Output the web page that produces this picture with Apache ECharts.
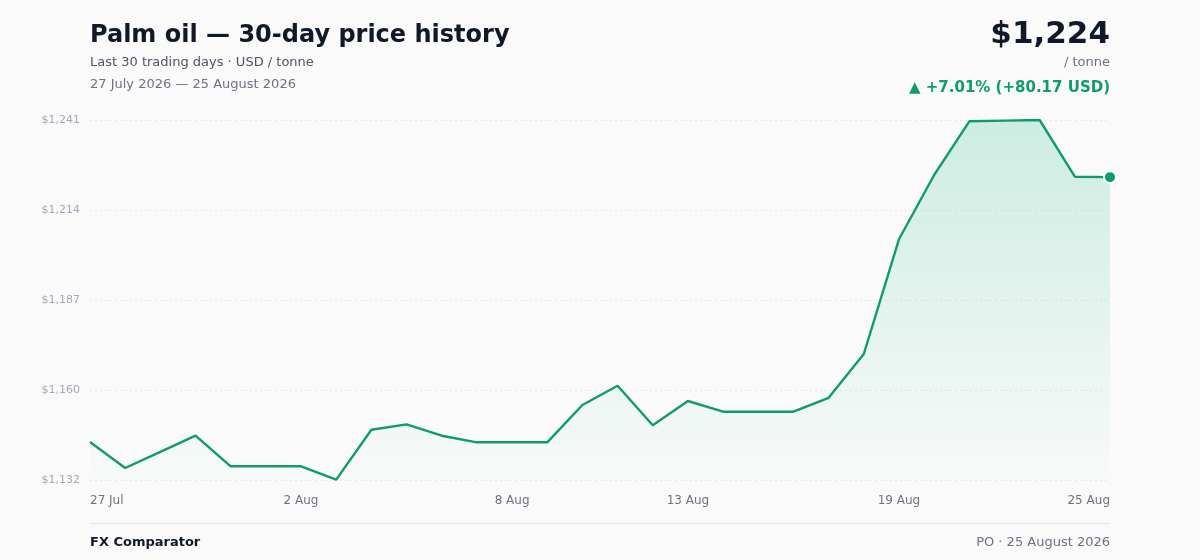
<!DOCTYPE html>
<html>
<head>
<meta charset="utf-8">
<script src="https://cdn.jsdelivr.net/npm/echarts@6/dist/echarts.min.js"></script>
<style>
html,body{margin:0;padding:0;background:#fafafa;}
#chart{width:1200px;height:560px;}
</style>
</head>
<body>
<div id="chart"></div>
<script>
const categories = ['27 Jul','28 Jul','29 Jul','30 Jul','31 Jul','1 Aug','2 Aug','3 Aug','4 Aug','5 Aug','6 Aug','7 Aug','8 Aug','9 Aug','10 Aug','11 Aug','12 Aug','13 Aug','14 Aug','15 Aug','16 Aug','17 Aug','18 Aug','19 Aug','20 Aug','21 Aug','22 Aug','23 Aug','24 Aug','25 Aug'];
const prices = [1143.83,1135.93,1140.8,1145.71,1136.45,1136.45,1136.45,1132.4,1147.53,1149.16,1145.71,1143.71,1143.71,1143.71,1155.0,1160.85,1148.86,1156.22,1152.98,1152.98,1152.98,1157.2,1170.45,1205.18,1224.65,1240.9,1241.1,1241.3,1224.13,1224.0];
const xLabelIndices = [0,6,12,17,23,29];
const yTicks = [1132.3,1159.55,1186.8,1214.05,1241.3];
const yMin = 1132.3;
const yMax = 1241.3;

const GREEN = '#0f9b6e';
const chart = echarts.init(document.getElementById('chart'), null, {renderer:'canvas'});
const FONT = 'DejaVu Sans';

const seriesData = prices.map((v,i) => i === prices.length-1
  ? {value:v, symbol:'circle', symbolSize:12, itemStyle:{color:GREEN, borderColor:'#ffffff', borderWidth:2}}
  : {value:v});

const fmt = v => '$' + Math.round(v).toLocaleString('en-US');

chart.setOption({
  backgroundColor:'#fafafa',
  animation:false,
  textStyle:{fontFamily:FONT},
  grid:{left:90,right:90,top:120,bottom:80,containLabel:false},
  graphic:[
    {type:'text',left:90,top:24,style:{text:'Palm oil — 30-day price history',font:'bold 24px "DejaVu Sans"',fill:'#111827'}},
    {type:'text',left:90,top:56,style:{text:'Last 30 trading days · USD / tonne',font:'13px "DejaVu Sans"',fill:'#4b5563'}},
    {type:'text',left:90,top:78,style:{text:'27 July 2026 — 25 August 2026',font:'13px "DejaVu Sans"',fill:'#6b7280'}},
    {type:'text',right:90,top:19,style:{text:'$1,224',font:'bold 31px "DejaVu Sans"',fill:'#111827',textAlign:'right'}},
    {type:'text',right:90,top:56,style:{text:'/ tonne',font:'13px "DejaVu Sans"',fill:'#6b7280',textAlign:'right'}},
    {type:'text',right:90,top:81,style:{text:'▲ +7.01% (+80.17 USD)',font:'bold 15px "DejaVu Sans"',fill:GREEN,textAlign:'right'}},
    {type:'line',shape:{x1:90,y1:523.5,x2:1110,y2:523.5},style:{stroke:'#e8e9ec',lineWidth:1.5}},
    {type:'text',left:90,top:536,style:{text:'FX Comparator',font:'bold 13px "DejaVu Sans"',fill:'#111827'}},
    {type:'text',right:90,top:536,style:{text:'PO · 25 August 2026',font:'13px "DejaVu Sans"',fill:'#6b7280',textAlign:'right'}}
  ],
  xAxis:{
    type:'category',
    data:categories,
    boundaryGap:false,
    axisLine:{show:false},
    axisTick:{show:false},
    splitLine:{show:false},
    axisLabel:{
      interval:(idx)=>xLabelIndices.includes(idx),
      color:'#6b7280',fontSize:12,fontFamily:FONT,margin:15,
      alignMinLabel:'left',alignMaxLabel:'right'
    }
  },
  yAxis:{
    type:'value',
    min:yMin,max:yMax,
    axisLine:{show:false},
    axisTick:{show:false,customValues:yTicks},
    axisLabel:{customValues:yTicks,formatter:fmt,color:'#a0a8ba',fontSize:11,fontFamily:FONT,margin:10},
    splitLine:{show:true,lineStyle:{color:'#e6e8ec',type:[2,3],width:1}}
  },
  series:[{
    type:'line',
    data:seriesData,
    symbol:'none',
    smooth:false,
    lineStyle:{color:GREEN,width:2.4},
    itemStyle:{color:GREEN},
    areaStyle:{color:new echarts.graphic.LinearGradient(0,0,0,1,[
      {offset:0,color:'rgba(16,180,125,0.28)'},
      {offset:1,color:'rgba(16,180,125,0.01)'}
    ])}
  }]
});
</script>
</body>
</html>
